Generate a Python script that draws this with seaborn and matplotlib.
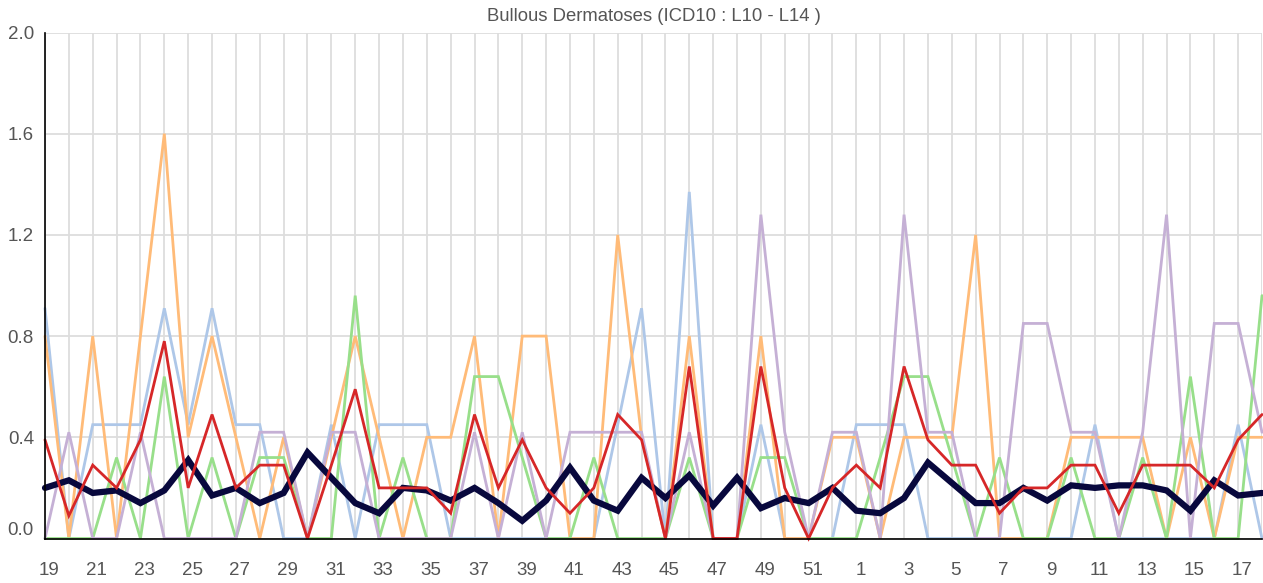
import pandas as pd
import matplotlib.pyplot as plt
import matplotlib.transforms as mtransforms
import seaborn as sns

# weeks shown on x axis (week 19 of one year through week 18 of the next)
weeks = list(range(19, 53)) + list(range(1, 19))

# series values
blue = [0.91, 0, 0.45, 0.45, 0.45, 0.91, 0.45, 0.91, 0.45, 0.45, 0, 0, 0.45, 0, 0.45, 0.45,
        0.45, 0, 0, 0, 0, 0, 0, 0, 0.45, 0.91, 0, 1.37, 0, 0, 0.45, 0, 0, 0,
        0.45, 0.45, 0.45, 0, 0, 0, 0, 0, 0, 0, 0.45, 0, 0, 0, 0, 0, 0.45, 0]
orange = [0.8, 0, 0.8, 0, 0.8, 1.6, 0.4, 0.8, 0.4, 0, 0.4, 0, 0.4, 0.8, 0.4, 0,
          0.4, 0.4, 0.8, 0, 0.8, 0.8, 0, 0, 1.2, 0.4, 0, 0.8, 0, 0, 0.8, 0, 0, 0.4,
          0.4, 0, 0.4, 0.4, 0.4, 1.2, 0, 0, 0, 0.4, 0.4, 0.4, 0.4, 0, 0.4, 0, 0.4, 0.4]
green = [0, 0, 0, 0.32, 0, 0.64, 0, 0.32, 0, 0.32, 0.32, 0, 0, 0.96, 0, 0.32,
         0, 0, 0.64, 0.64, 0.32, 0, 0, 0.32, 0, 0, 0, 0.32, 0, 0, 0.32, 0.32, 0, 0,
         0, 0.32, 0.64, 0.64, 0.32, 0, 0.32, 0, 0, 0.32, 0, 0, 0.32, 0, 0.64, 0, 0, 0.96]
purple = [0, 0.42, 0, 0, 0.42, 0, 0, 0, 0, 0.42, 0.42, 0, 0.42, 0.42, 0, 0,
          0, 0, 0.42, 0, 0.42, 0, 0.42, 0.42, 0.42, 0.42, 0, 0.42, 0, 0, 1.28, 0.42, 0, 0.42,
          0.42, 0, 1.28, 0.42, 0.42, 0, 0, 0.85, 0.85, 0.42, 0.42, 0, 0.42, 1.28, 0, 0.85, 0.85, 0.42]
average = [0.2, 0.23, 0.18, 0.19, 0.14, 0.19, 0.31, 0.17, 0.2, 0.14, 0.18, 0.34, 0.24, 0.14, 0.1, 0.2,
           0.19, 0.15, 0.2, 0.14, 0.07, 0.15, 0.28, 0.15, 0.11, 0.24, 0.16, 0.25, 0.13, 0.24, 0.12, 0.16, 0.14, 0.2,
           0.11, 0.1, 0.16, 0.3, 0.22, 0.14, 0.14, 0.2, 0.15, 0.21, 0.2, 0.21, 0.21, 0.19, 0.11, 0.23, 0.17, 0.18]
red = [0.39, 0.09, 0.29, 0.2, 0.39, 0.78, 0.2, 0.49, 0.2, 0.29, 0.29, 0, 0.29, 0.59, 0.2, 0.2,
       0.2, 0.1, 0.49, 0.2, 0.39, 0.2, 0.1, 0.2, 0.49, 0.39, 0, 0.68, 0, 0, 0.68, 0.2, 0, 0.2,
       0.29, 0.2, 0.68, 0.39, 0.29, 0.29, 0.1, 0.2, 0.2, 0.29, 0.29, 0.1, 0.29, 0.29, 0.29, 0.2, 0.39, 0.49]

series = [('blue', blue, '#aec7e8', 2.0),
          ('orange', orange, '#ffbb78', 2.0),
          ('green', green, '#98df8a', 2.0),
          ('purple', purple, '#c5b0d5', 2.0),
          ('average', average, '#08083d', 4.5),
          ('red', red, '#d62728', 2.0)]

pos = list(range(len(weeks)))

sns.set_style('white')
plt.rcParams['font.family'] = ['Liberation Sans', 'DejaVu Sans']

fig = plt.figure(figsize=(12.63, 5.83), dpi=100)
ax = fig.add_axes([45 / 1263, 44.5 / 583, 1217 / 1263, 506 / 583])

for name, vals, col, lw in series:
    df = pd.DataFrame({'pos': pos, 'val': vals})
    sns.lineplot(data=df, x='pos', y='val', color=col, linewidth=lw, ax=ax,
                 clip_on=False, solid_joinstyle='miter')

ax.set_xlim(0, len(weeks) - 1)
ax.set_ylim(0, 2.0)
ax.set_xticks(pos)
ax.set_xticklabels([str(w) if i % 2 == 0 else '' for i, w in enumerate(weeks)])
ax.set_yticks([0, 0.4, 0.8, 1.2, 1.6, 2.0])
ax.set_yticklabels(['0.0', '0.4', '0.8', '1.2', '1.6', '2.0'])
ax.grid(True, color='#dddddd', linewidth=1.3)
ax.set_axisbelow(True)
ax.set_xlabel('')
ax.set_ylabel('')

for s in ['top', 'right']:
    ax.spines[s].set_visible(False)
ax.spines['left'].set_color('black')
ax.spines['bottom'].set_color('black')
ax.spines['left'].set_linewidth(1.2)
ax.spines['bottom'].set_linewidth(1.2)
ax.tick_params(axis='both', colors='black', labelcolor='#555555', labelsize=13.5,
               direction='out', length=6, width=1)
ax.tick_params(axis='x', pad=11)
ax.tick_params(axis='y', pad=2)

# labels sit a little right of their ticks, bottom y label lifted off the axis
for lab in ax.get_xticklabels():
    lab.set_transform(lab.get_transform() + mtransforms.ScaledTranslation(4 / 100, 0, fig.dpi_scale_trans))
ylabs = ax.get_yticklabels()
ylabs[0].set_transform(ylabs[0].get_transform() + mtransforms.ScaledTranslation(0, 10 / 100, fig.dpi_scale_trans))

ax.set_title('Bullous Dermatoses (ICD10 : L10 - L14 )', fontsize=13.3, color='#555555', pad=8)

fig.savefig('out.png', dpi=100)
